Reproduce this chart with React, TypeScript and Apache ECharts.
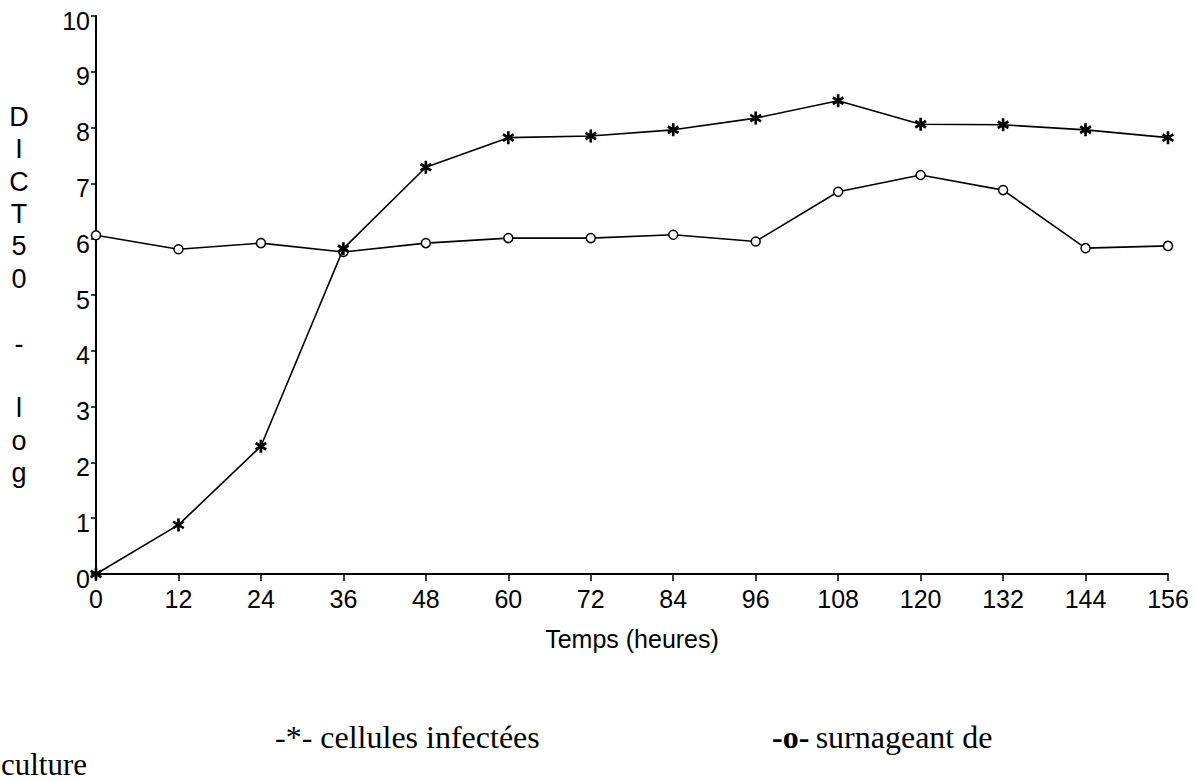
import React, { useEffect, useRef } from "react";
import * as echarts from "echarts";

const hours = [0, 12, 24, 36, 48, 60, 72, 84, 96, 108, 120, 132, 144, 156];
const infectedCells = [0, 0.88, 2.29, 5.83, 7.29, 7.82, 7.85, 7.96, 8.17, 8.48, 8.06, 8.05, 7.96, 7.82];
const supernatant = [6.07, 5.82, 5.93, 5.77, 5.93, 6.02, 6.02, 6.08, 5.96, 6.85, 7.15, 6.88, 5.84, 5.88];
const yTicks = [0, 10, 1];
const xTicks = [0, 156, 12];

const STAR =
  "path://M-1.3,-6L1.3,-6L1.3,6L-1.3,6Z M-4.546,-4.126L5.846,1.874L4.546,4.126L-5.846,-1.874Z M5.846,-1.874L-4.546,4.126L-5.846,1.874L4.546,-4.126Z";

export default function App() {
  const ref = useRef<HTMLDivElement>(null);
  useEffect(() => {
    if (!ref.current) return;
    const chart = echarts.init(ref.current, null, { renderer: "svg" });
    const sans = "Liberation Sans, Arial, sans-serif";
    const serif = "Liberation Serif, Times New Roman, serif";
    chart.setOption({
      animation: false,
      backgroundColor: "#ffffff",
      grid: { left: 96, right: 29, top: 16, bottom: 207, containLabel: false },
      xAxis: {
        type: "value",
        min: xTicks[0],
        max: xTicks[1],
        interval: xTicks[2],
        name: "Temps (heures)",
        nameLocation: "middle",
        nameGap: 52,
        nameTextStyle: { color: "#000", fontSize: 25, fontFamily: sans },
        axisLine: { show: true, onZero: false, lineStyle: { color: "#000", width: 2 } },
        axisTick: { show: true, length: 7, lineStyle: { color: "#000", width: 1.5 } },
        axisLabel: { color: "#000", fontSize: 25, fontFamily: sans, margin: 12 },
        splitLine: { show: false },
      },
      yAxis: {
        type: "value",
        min: yTicks[0],
        max: yTicks[1],
        interval: yTicks[2],
        name: "D\nI\nC\nT\n5\n0\n\n-\n\nl\no\ng",
        nameLocation: "middle",
        nameRotate: 0,
        nameGap: 77,
        nameTextStyle: {
          color: "#000",
          fontSize: 27,
          fontFamily: sans,
          lineHeight: 32.4,
          align: "center",
          verticalAlign: "middle",
          padding: [6, 0, 0, 0],
        },
        axisLine: { show: true, onZero: false, lineStyle: { color: "#000", width: 2 } },
        axisTick: { show: true, length: 5, lineStyle: { color: "#000", width: 1.5 } },
        axisLabel: {
          margin: 6,
          formatter: "{v|{value}}",
          rich: {
            v: {
              color: "#000",
              fontSize: 25,
              fontFamily: sans,
              padding: [9, 0, 0, 0],
            },
          },
        },
        splitLine: { show: false },
      },
      series: [
        {
          name: "surnageant de culture",
          type: "line",
          data: hours.map((h, i) => [h, supernatant[i]]),
          symbol: "circle",
          symbolSize: 9,
          lineStyle: { color: "#000", width: 1.6 },
          itemStyle: { color: "#fff", borderColor: "#000", borderWidth: 1.5 },
          z: 2,
        },
        {
          name: "cellules infectées",
          type: "line",
          data: hours.map((h, i) => [h, infectedCells[i]]),
          symbol: STAR,
          symbolSize: [12, 13],
          lineStyle: { color: "#000", width: 1.6 },
          itemStyle: { color: "#000" },
          z: 3,
        },
      ],
      graphic: [
        {
          type: "text",
          left: 275,
          top: 721,
          style: {
            text: "-*- cellules infectées",
            fill: "#000",
            font: `32px ${serif}`,
          },
        },
        {
          type: "text",
          left: 772,
          top: 721,
          style: {
            text: "{b|-o-} {a|surnageant de}",
            fill: "#000",
            rich: {
              a: { fontSize: 32, fontFamily: serif, fill: "#000", padding: [0, 0, 0, 3] },
              b: { fontSize: 32, fontFamily: serif, fontWeight: "bold", fill: "#000" },
            },
          },
        },
        {
          type: "text",
          left: 1,
          top: 749,
          style: {
            text: "culture",
            fill: "#000",
            fontSize: 31,
            fontFamily: serif,
            lineHeight: 30,
          },
        },
      ],
    });
    return () => chart.dispose();
  }, []);
  return <div ref={ref} style={{ width: 1197, height: 781, position: "absolute", left: 0, top: 0 }} />;
}
